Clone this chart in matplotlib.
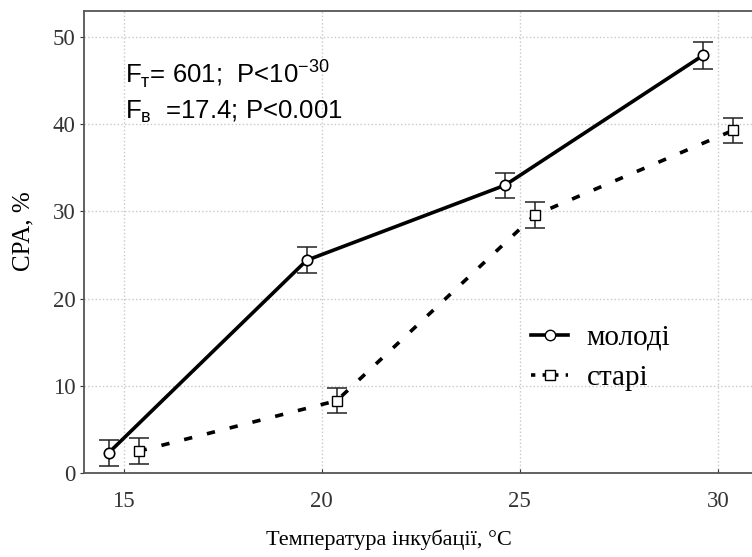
import matplotlib.pyplot as plt
from matplotlib.lines import Line2D

# incubation temperature (deg C); the two groups are drawn slightly apart
temp_young = [14.62, 19.62, 24.62, 29.62]
temp_old = [15.38, 20.38, 25.38, 30.38]

# CPA, % with error bars
cpa_young = [2.3, 24.4, 33.0, 47.9]
err_young = [1.5, 1.5, 1.4, 1.5]
cpa_old = [2.5, 8.3, 29.6, 39.3]
err_old = [1.5, 1.45, 1.5, 1.45]

x_ticks = [15, 20, 25, 30]
y_ticks = [0, 10, 20, 30, 40, 50]

serif = ['Liberation Serif', 'DejaVu Serif']
sans = ['Liberation Sans', 'DejaVu Sans']
plt.rcParams['font.family'] = serif
plt.rcParams['mathtext.fontset'] = 'custom'
plt.rcParams['mathtext.rm'] = 'Liberation Sans'

fig = plt.figure(figsize=(7.52, 5.57), dpi=100)
ax = fig.add_axes([0.1117, 0.1508, 0.8957, 0.8295])

ax.grid(True, color='#c8c8c8', linestyle=':', linewidth=1.0)
ax.set_axisbelow(True)

ax.errorbar(temp_young, cpa_young, yerr=err_young, fmt='none', ecolor='#222222',
            elinewidth=1.1, capsize=7.5, capthick=1.1, zorder=3)
ax.errorbar(temp_old, cpa_old, yerr=err_old, fmt='none', ecolor='#222222',
            elinewidth=1.1, capsize=7.5, capthick=1.1, zorder=3)

ax.plot(temp_young, cpa_young, color='black', linewidth=2.6, zorder=4)
ax.plot(temp_old, cpa_old, color='black', linewidth=2.6, dashes=(2.3, 4.2), zorder=4)
ax.plot(temp_young, cpa_young, linestyle='none', marker='o', markersize=7.5,
        markerfacecolor='white', markeredgecolor='black', markeredgewidth=1.2, zorder=5)
ax.plot(temp_old, cpa_old, linestyle='none', marker='s', markersize=6.5,
        markerfacecolor='white', markeredgecolor='black', markeredgewidth=1.0, zorder=5)

ax.set_xlim(14, 31)
ax.set_ylim(0, 53)
ax.set_xticks(x_ticks)
ax.set_yticks(y_ticks)
ax.tick_params(axis='x', direction='in', length=3, pad=13, labelsize=16.5, colors='#333333')
ax.tick_params(axis='y', direction='out', length=3, pad=3, labelsize=16.5, colors='#333333')
for side in ['left', 'bottom', 'top']:
    ax.spines[side].set_color('#555555')
    ax.spines[side].set_linewidth(1.3)
ax.spines['right'].set_visible(False)

ax.set_xlabel('Температура інкубації, °C', fontsize=16)
ax.xaxis.set_label_coords(0.453, -0.122)
ax.set_ylabel('CPA, %', fontsize=18)
ax.yaxis.set_label_coords(-0.073, 0.524)

ax.text(15.03, 44.7, r'F$_{\mathregular{т}}$= 601;  P<10$^{\mathregular{-30}}$',
        family=sans, fontsize=18.5, va='baseline')
ax.text(15.03, 40.7, r'F$_{\mathregular{в}}$  =17.4; P<0.001',
        family=sans, fontsize=18.5, va='baseline')

handles = [
    Line2D([], [], color='black', linewidth=2.6, marker='o', markersize=7.5,
           markerfacecolor='white', markeredgecolor='black'),
    Line2D([], [], color='black', linewidth=2.6, dashes=(1.2, 2.0), marker='s',
           markersize=6.5, markerfacecolor='white', markeredgecolor='black'),
]
ax.legend(handles, ['молоді', 'старі'], loc='upper left', bbox_to_anchor=(0.647, 0.347),
          frameon=False, fontsize=21, handlelength=1.25, handletextpad=0.65,
          labelspacing=0.47, numpoints=1, borderaxespad=0)

fig.savefig('out.png', dpi=100)
